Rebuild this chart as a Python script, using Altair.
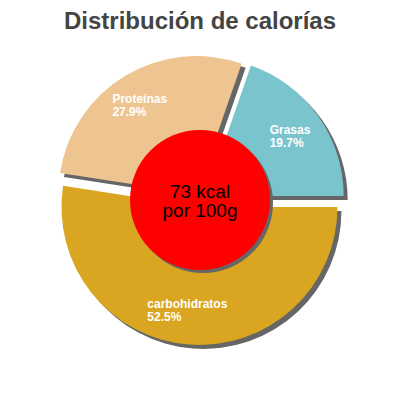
import math
import altair as alt
import pandas as pd

# ---- data ----
names = ["Grasas", "carbohidratos", "Proteínas"]
percents = [19.7, 52.5, 27.9]
colors = ["#7AC5CD", "#DAA520", "#EEC591"]
kcal = [73]
title_text = "Distribución de calorías"

# ---- layout / style constants ----
W, H = 384, 344
PAD_TOP = 40
CX, CY = 192, 152          # pie centre in plot coordinates
R = 138                    # outer radius
EXPLODE = 7                # slice offset along bisector
SHADOW = 4                 # shadow offset
LABEL_R = 103.5            # label radius from exploded centre
LABEL_SHIFT = 6            # vertical nudge for two-line labels
START = 0.334              # start angle (radians, clockwise from 12 o'clock)
HOLE_R = 70
TWO_PI = 2 * math.pi

df = pd.DataFrame({"name": names, "pct": percents, "idx": list(range(len(names)))})
centre = pd.DataFrame({"kcal": kcal})

base = alt.Chart(df).transform_window(
    cum="sum(pct)", sort=[alt.SortField("idx")], frame=[None, 0]
).transform_joinaggregate(
    total="sum(pct)"
).transform_calculate(
    a0=f"{START} + {TWO_PI} * (datum.cum - datum.pct) / datum.total",
    a1=f"{START} + {TWO_PI} * datum.cum / datum.total",
).transform_calculate(
    mid="(datum.a0 + datum.a1) / 2"
).transform_calculate(
    ex=f"{CX} + {EXPLODE} * sin(datum.mid)",
    ey=f"{CY} - {EXPLODE} * cos(datum.mid)",
).transform_calculate(
    sx=f"datum.ex + {SHADOW}",
    sy=f"datum.ey + {SHADOW}",
    lx=f"datum.ex + {LABEL_R} * sin(datum.mid) - length(datum.name) * 3.4",
    ly=f"datum.ey - {LABEL_R} * cos(datum.mid) - {LABEL_SHIFT}",
    label="datum.name + '\\n' + format(datum.pct, '.1f') + '%'",
)

shadows = base.mark_arc(radius=R, color="#666666").encode(
    theta=alt.Theta("a0:Q", scale=None, stack=None),
    theta2="a1:Q",
    x=alt.X("sx:Q", scale=None),
    y=alt.Y("sy:Q", scale=None),
)

slices = base.mark_arc(radius=R).encode(
    theta=alt.Theta("a0:Q", scale=None, stack=None),
    theta2="a1:Q",
    x=alt.X("ex:Q", scale=None),
    y=alt.Y("ey:Q", scale=None),
    color=alt.Color("name:N", scale=alt.Scale(domain=names, range=colors), legend=None),
)

labels = base.mark_text(
    align="left", baseline="middle", fontSize=12, fontWeight="bold",
    font="Liberation Sans", color="white", lineBreak="\n", lineHeight=13,
).encode(
    x=alt.X("lx:Q", scale=None),
    y=alt.Y("ly:Q", scale=None),
    text="label:N",
)

hole_size = (2 * HOLE_R) ** 2   # Vega circle: radius = sqrt(size)/2
hole_shadow = alt.Chart(centre).mark_circle(size=hole_size, color="#666666", opacity=1).encode(
    x=alt.value(CX + 3), y=alt.value(CY + 3)
)
hole = alt.Chart(centre).mark_circle(size=hole_size, color="#FF0000", opacity=1).encode(
    x=alt.value(CX), y=alt.value(CY)
)
centre_text = alt.Chart(centre).transform_calculate(
    t="datum.kcal + ' kcal\\npor 100g'"
).mark_text(
    align="center", baseline="middle", fontSize=19, font="Liberation Sans",
    color="black", lineBreak="\n", lineHeight=19,
).encode(x=alt.value(CX), y=alt.value(CY - 8), text="t:N")

chart = alt.layer(shadows, slices, labels, hole_shadow, hole, centre_text).properties(
    width=W, height=H,
    title=alt.Title(title_text, fontSize=24, fontWeight="bold", color="#444444",
                    font="Liberation Sans", anchor="middle", offset=14),
    autosize=alt.AutoSizeParams(type="none"),
    padding={"left": 0, "right": 0, "top": PAD_TOP, "bottom": 0},
).configure_view(stroke=None)

chart.save("out.html", embed_options={"renderer": "svg", "actions": False})
